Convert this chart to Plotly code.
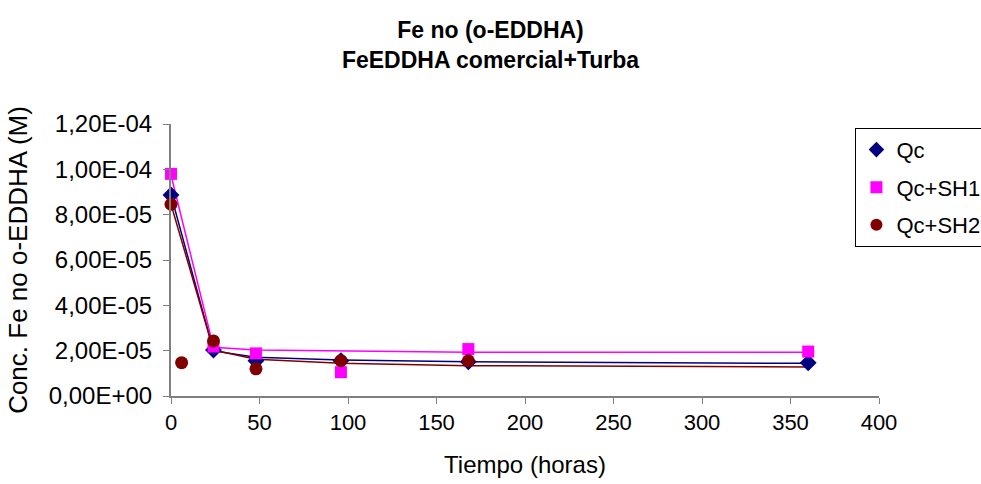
import plotly.graph_objects as go

# Measured points (time in hours, concentration in M)
t_qc = [0, 24, 48, 96, 168, 360]
qc = [8.87e-5, 2.03e-5, 1.55e-5, 1.56e-5, 1.51e-5, 1.47e-5]

t_sh1 = [0, 24, 48, 96, 168, 360]
sh1 = [9.80e-5, 2.18e-5, 1.88e-5, 1.05e-5, 2.07e-5, 1.96e-5]

t_sh2 = [0, 6, 24, 48, 96, 168]
sh2 = [8.46e-5, 1.47e-5, 2.43e-5, 1.20e-5, 1.56e-5, 1.55e-5]

# Model curves
t_model = [0, 24, 48, 96, 168, 360]
qc_model = [8.87e-5, 1.99e-5, 1.71e-5, 1.59e-5, 1.51e-5, 1.44e-5]
sh1_model = [9.75e-5, 2.15e-5, 2.03e-5, 1.99e-5, 1.93e-5, 1.93e-5]
sh2_model = [8.46e-5, 2.03e-5, 1.62e-5, 1.44e-5, 1.34e-5, 1.28e-5]

y_ticks = [0, 2e-5, 4e-5, 6e-5, 8e-5, 1e-4, 1.2e-4]
y_tick_text = ["0,00E+00", "2,00E-05", "4,00E-05", "6,00E-05",
               "8,00E-05", "1,00E-04", "1,20E-04"]

NAVY = "#000080"
MAGENTA = "#FF00FF"
DARKRED = "#800000"

fig = go.Figure()

for y, c in [(qc_model, NAVY), (sh1_model, MAGENTA), (sh2_model, DARKRED)]:
    fig.add_trace(go.Scatter(x=t_model, y=y, mode="lines",
                             line=dict(color=c, width=1.5),
                             showlegend=False, hoverinfo="skip",
                             cliponaxis=False))

fig.add_trace(go.Scatter(x=t_qc, y=qc, mode="markers", name="Qc",
                         legendgroup="a", cliponaxis=False,
                         marker=dict(symbol="diamond", size=13, color=NAVY)))
fig.add_trace(go.Scatter(x=t_sh1, y=sh1, mode="markers", name="Qc+SH1",
                         legendgroup="b", cliponaxis=False,
                         marker=dict(symbol="square", size=12, color=MAGENTA)))
fig.add_trace(go.Scatter(x=t_sh2, y=sh2, mode="markers", name="Qc+SH2",
                         legendgroup="c", cliponaxis=False,
                         marker=dict(symbol="circle", size=13, color=DARKRED)))

font_family = "Liberation Sans, Arial, sans-serif"

fig.update_layout(
    width=981, height=484,
    margin=dict(l=171, r=102, t=124, b=88, autoexpand=False),
    paper_bgcolor="white", plot_bgcolor="white",
    font=dict(family=font_family, size=22, color="black"),
    title=dict(text="<b>Fe no (o-EDDHA)<br>FeEDDHA comercial+Turba</b>",
               x=0.5, xanchor="center", y=0.922, yanchor="middle",
               font=dict(size=23)),
    legend=dict(x=0.872, y=0.736, xref="container", yref="container",
                xanchor="left", yanchor="top",
                bordercolor="black", borderwidth=1, bgcolor="white",
                font=dict(size=22), itemsizing="constant",
                traceorder="grouped", tracegroupgap=6),
    showlegend=True,
)

fig.update_xaxes(range=[0, 400], tickvals=list(range(0, 401, 50)),
                 showline=True, linecolor="#808080", linewidth=2,
                 ticks="outside", ticklen=6, tickcolor="#808080",
                 showgrid=False, zeroline=False,
                 title=dict(text="Tiempo (horas)", standoff=22,
                            font=dict(size=24)),
                 tickfont=dict(size=22))
fig.update_yaxes(range=[0, 1.2e-4], tickvals=y_ticks, ticktext=y_tick_text,
                 showline=True, linecolor="#808080", linewidth=2,
                 ticks="outside", ticklen=6, tickcolor="#808080",
                 ticklabelstandoff=6,
                 showgrid=False, zeroline=False,
                 title=dict(text="Conc. Fe no o-EDDHA (M)", standoff=14,
                            font=dict(size=26)),
                 tickfont=dict(size=24))

fig.write_html("out.html")
